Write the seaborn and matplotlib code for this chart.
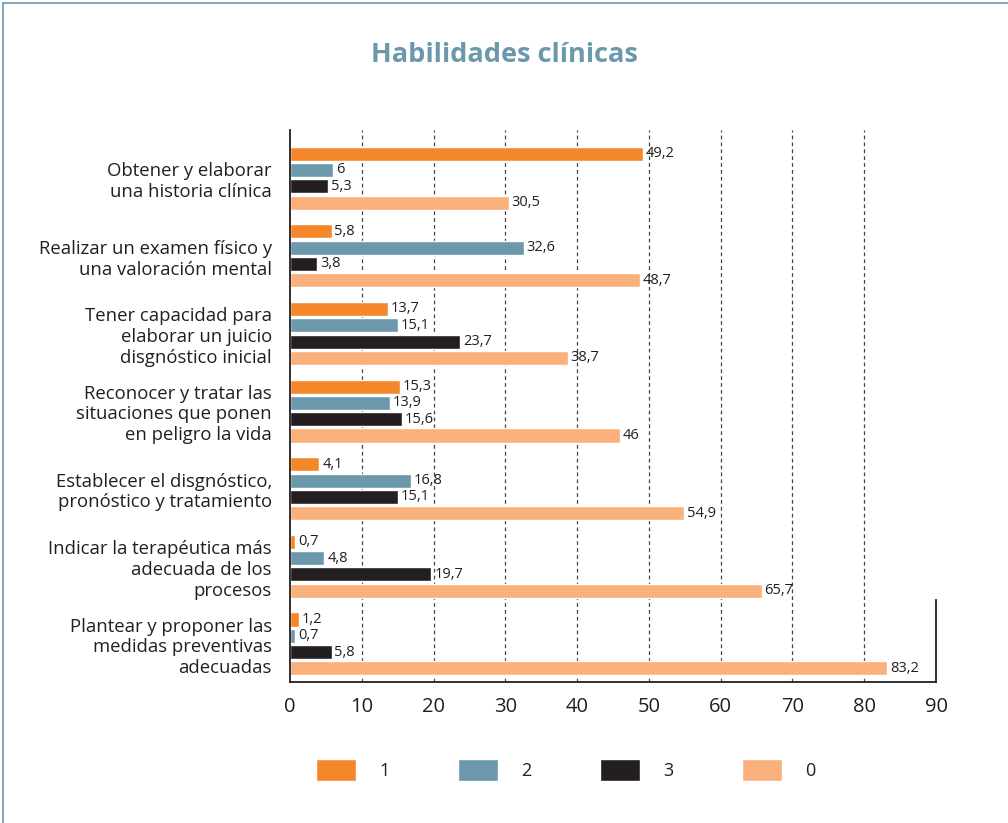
import matplotlib
matplotlib.use("Agg")
import matplotlib.pyplot as plt
import matplotlib.patches as mpatches
import seaborn as sns
import pandas as pd

categories = [
    "Obtener y elaborar\nuna historia clínica",
    "Realizar un examen físico y\nuna valoración mental",
    "Tener capacidad para\nelaborar un juicio\ndisgnóstico inicial",
    "Reconocer y tratar las\nsituaciones que ponen\nen peligro la vida",
    "Establecer el disgnóstico,\npronóstico y tratamiento",
    "Indicar la terapéutica más\nadecuada de los\nprocesos",
    "Plantear y proponer las\nmedidas preventivas\nadecuadas",
]
series_names = ["1", "2", "3", "0"]
s1 = [49.2, 5.8, 13.7, 15.3, 4.1, 0.7, 1.2]
s2 = [6, 32.6, 15.1, 13.9, 16.8, 4.8, 0.7]
s3 = [5.3, 3.8, 23.7, 15.6, 15.1, 19.7, 5.8]
s0 = [30.5, 48.7, 38.7, 46, 54.9, 65.7, 83.2]
xticks = [0, 10, 20, 30, 40, 50, 60, 70, 80, 90]
title = "Habilidades clínicas"

colors = ["#F5872B", "#6B98AB", "#231F20", "#F9B07A"]
text_color = "#231F20"
title_color = "#6B98AB"

sns.set_style("white")
plt.rcParams["font.family"] = ["Open Sans", "DejaVu Sans"]

rows = []
for name, vals in zip(series_names, [s1, s2, s3, s0]):
    for c, v in zip(categories, vals):
        rows.append({"cat": c, "serie": name, "val": v})
df = pd.DataFrame(rows)

fig = plt.figure(figsize=(10.08, 8.23), dpi=100)
ax = fig.add_axes([290 / 1008, 1 - 682 / 823, (936 - 290) / 1008, (682 - 130) / 823])

sns.barplot(data=df, y="cat", x="val", hue="serie", hue_order=series_names,
            order=categories, palette=colors, orient="h", width=0.84, gap=0.14,
            saturation=1, legend=False, ax=ax, errorbar=None)

for cont in ax.containers:
    labs = [f"{v:g}".replace(".", ",") for v in cont.datavalues]
    ax.bar_label(cont, labels=labs, padding=2, fontsize=10.5, color=text_color)

ax.set_xlim(0, 90)
ax.set_ylim(6.49, -0.62)
ax.set_xticks(xticks)
ax.set_xlabel("")
ax.set_ylabel("")
ax.tick_params(axis="x", direction="in", length=5, width=0.8, color=text_color,
               labelsize=14.5, labelcolor=text_color, pad=11)
ax.tick_params(axis="y", length=0, labelsize=13.3, labelcolor=text_color, pad=13)
for lab in ax.get_yticklabels():
    lab.set_horizontalalignment("right")
    lab.set_multialignment("right")
    lab.set_linespacing(1.2)

ax.grid(axis="x", linestyle=(0, (3, 2.5)), color="#444444", linewidth=0.9)
ax.grid(axis="y", visible=False)
gl = ax.get_xgridlines()
gl[0].set_visible(False)
gl[-1].set_visible(False)
ax.set_axisbelow(True)

ax.spines["top"].set_visible(False)
for s in ["left", "bottom", "right"]:
    ax.spines[s].set_color(text_color)
    ax.spines[s].set_linewidth(1.3)
ax.spines["right"].set_bounds(5.43, 6.49)

fig.text(0.5, 1 - 55 / 823, title, ha="center", va="center", fontsize=19.5,
         fontweight="bold", color=title_color)

handles = [mpatches.Patch(facecolor=c, label=n) for c, n in zip(colors, series_names)]
fig.legend(handles=handles, loc="center", bbox_to_anchor=(566 / 1008, 1 - 770 / 823),
           ncol=4, frameon=False, fontsize=13, handlelength=2.2, handleheight=1.5,
           columnspacing=3.8, handletextpad=1.3, labelcolor=text_color)

# page frame lines
fig.add_artist(plt.Line2D([3 / 1008, 3 / 1008], [0, 1 - 3 / 823], color="#6B98AB", lw=1.2))
fig.add_artist(plt.Line2D([3 / 1008, 1], [1 - 3 / 823, 1 - 3 / 823], color="#6B98AB", lw=1.2))

fig.savefig("out.png", dpi=100)
